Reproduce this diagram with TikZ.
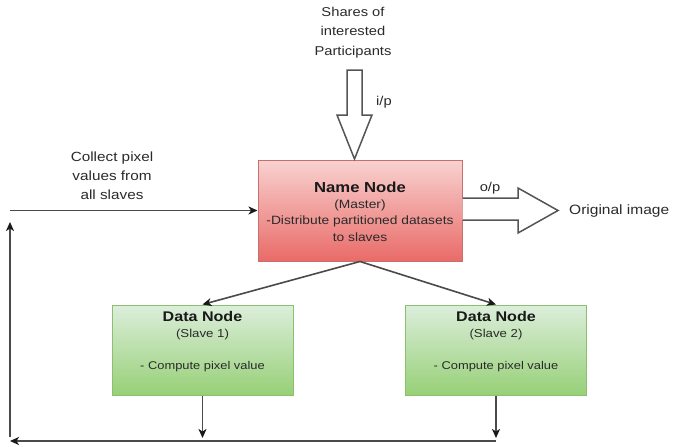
\documentclass[tikz,border=0pt]{standalone}
\usepackage{fontspec}
\setmainfont{Liberation Sans}[FakeStretch=1.15]
\usetikzlibrary{arrows.meta}
\definecolor{redtop}{HTML}{F8D2D0}
\definecolor{redbot}{HTML}{E96B68}
\definecolor{redstroke}{HTML}{C8706C}
\definecolor{greentop}{HTML}{DCEEDB}
\definecolor{greenbot}{HTML}{97D077}
\definecolor{greenstroke}{HTML}{8CC070}
\definecolor{txtcol}{HTML}{2A2A2A}
\definecolor{linecol}{HTML}{4A4A4A}
\definecolor{bacol}{HTML}{555555}
\tikzset{
  fs/.style={font=\fontsize{#1}{#1}\selectfont},
  nnbox/.style={draw=redstroke, line width=1pt, top color=redtop, bottom color=redbot,
    minimum width=204pt, minimum height=101pt, inner sep=0pt},
  dnbox/.style={draw=greenstroke, line width=1pt, top color=greentop, bottom color=greenbot,
    minimum width=181pt, minimum height=90pt, inner sep=0pt},
  txt/.style={text=txtcol, inner sep=0pt, align=center},
  btxt/.style={text=black!90, inner sep=0pt, align=center},
  conn/.style={draw=linecol, line width=1.6pt,
    -{Stealth[length=9pt,width=8pt,inset=2.5pt,fill=black!90,color=black!90]}},
  blockarrow/.style={draw=bacol, fill=white, line width=1.5pt, line join=miter},
}
\begin{document}
\begin{tikzpicture}[x=1pt,y=-1pt]
\useasboundingbox (0,0) rectangle (673,447);

% boxes
\node[nnbox] (nn) at (360,210.5) {};
\node[dnbox] (d1) at (202.5,350) {};
\node[dnbox] (d2) at (496,350) {};

% name node text
\node[btxt, font=\bfseries\fontsize{14.5}{14.5}\selectfont] (nnt) at (360,187) {Name Node};
\node[txt, fs=12] (nnm) at (360,205) {(Master)};
\node[txt, fs=12] (nnd) at (360,221) {-Distribute partitioned datasets};
\node[txt, fs=12] (nns) at (360,237) {to slaves};

% data node texts
\node[btxt, font=\bfseries\fontsize{14}{14}\selectfont] (d1t) at (202.5,316) {Data Node};
\node[txt, fs=11.5] (d1s) at (202.5,335) {(Slave 1)};
\node[txt, fs=11.2] (d1c) at (202.5,367) {- Compute pixel value};
\node[btxt, font=\bfseries\fontsize{14}{14}\selectfont] (d2t) at (496,316) {Data Node};
\node[txt, fs=11.5] (d2s) at (496,335) {(Slave 2)};
\node[txt, fs=11.2] (d2c) at (496,367) {- Compute pixel value};

% outside labels
\node[txt, font=\fontsize{12.8}{19.5}\selectfont] (shares) at (353,32.5) {Shares of\\interested\\Participants};
\node[txt, fs=12.8] (ip) at (384,102) {i/p};
\node[txt, fs=12.8] (op) at (490,188) {o/p};
\node[txt, fs=13.5, anchor=west] (orig) at (569,211) {Original image};
\node[txt, font=\fontsize{13.3}{19}\selectfont] (collect) at (112,176) {Collect pixel\\values from\\all slaves};

% input block arrow
\draw[blockarrow] (347,70) -- (362,70) -- (362,115) -- (372,115) -- (354.5,159)
  -- (337,115) -- (347,115) -- cycle;
% output block arrow
\draw[blockarrow] (nn.east |- 0,198) -- (518,198) -- (518,188) -- (558,210.5)
  -- (518,233) -- (518,220) -- (nn.east |- 0,220);

% connectors
\coordinate (b1) at (202.5,438);
\coordinate (b2) at (496,438);
\coordinate (r2) at (496,441);
\coordinate (l1) at (10,441);
\coordinate (l2) at (10,437);
\coordinate (l3) at (10,222);
\coordinate (l4) at (10,210.5);

\draw[conn] (nn.south) -- (d1.north);
\draw[conn] (nn.south) -- (d2.north);
\draw[conn] (d1.south) -- (b1);
\draw[conn] (d2.south) -- (b2);
\draw[conn] (r2) -- (l1);
\draw[conn] (l2) -- (l3);
\draw[conn] (l4) -- (nn.west);
\end{tikzpicture}
\end{document}
